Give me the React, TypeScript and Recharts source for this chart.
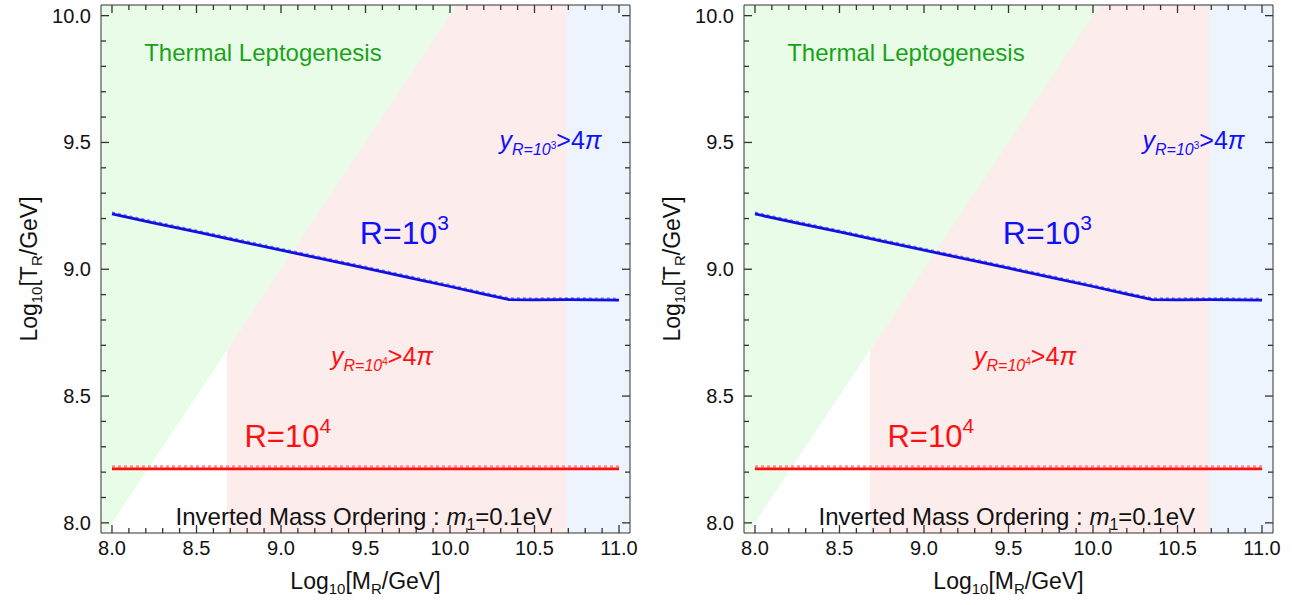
import React from "react";
import { ComposedChart, Area, Line, XAxis, YAxis, ReferenceDot } from "recharts";

// tick positions (major every 0.5, minor every 0.1)
const massTicks = [
  8.0, 8.1, 8.2, 8.3, 8.4, 8.5, 8.6, 8.7, 8.8, 8.9, 9.0, 9.1, 9.2, 9.3, 9.4, 9.5,
  9.6, 9.7, 9.8, 9.9, 10.0, 10.1, 10.2, 10.3, 10.4, 10.5, 10.6, 10.7, 10.8, 10.9, 11.0,
];
const tempTicks = [
  8.0, 8.1, 8.2, 8.3, 8.4, 8.5, 8.6, 8.7, 8.8, 8.9, 9.0, 9.1, 9.2, 9.3, 9.4, 9.5,
  9.6, 9.7, 9.8, 9.9, 10.0,
];

const massDomain: [number, number] = [7.935, 11.065];
const tempDomain: [number, number] = [7.96, 10.042];

// R = 10^3 curve (solid) and its companion (dashed)
const massR3 = [8.0, 8.25, 8.5, 8.75, 9.0, 9.25, 9.5, 9.75, 10.0, 10.2, 10.35, 10.5, 10.7, 10.85, 11.0];
const tempR3 = [9.218, 9.182, 9.147, 9.111, 9.075, 9.04, 9.004, 8.968, 8.932, 8.902, 8.880, 8.879, 8.880, 8.879, 8.878];
const tempR3Alt = [9.223, 9.187, 9.152, 9.116, 9.080, 9.045, 9.009, 8.973, 8.937, 8.907, 8.885, 8.884, 8.885, 8.884, 8.883];

// R = 10^4 curve
const massR4 = [8.0, 11.0];
const tempR4 = [8.213, 8.213];
const tempR4Alt = [8.222, 8.222];

// shaded regions
const leptoEdgeMass = [7.935, 10.042]; // T_R = M_R boundary
const yukawa4Mass = [8.68, 10.042, 10.69]; // y_{R=10^4} > 4 pi (below the T_R = M_R edge)
const yukawa3Mass = [10.69, 11.065]; // y_{R=10^3} > 4 pi

const r3Data = massR3.map((m, i) => ({ m, t: tempR3[i] }));
const r3AltData = massR3.map((m, i) => ({ m, t: tempR3Alt[i] }));
const r4Data = massR4.map((m, i) => ({ m, t: tempR4[i] }));
const r4AltData = massR4.map((m, i) => ({ m, t: tempR4Alt[i] }));
const leptoData = leptoEdgeMass.map((m) => ({ m, band: [m, tempDomain[1]] }));
const pinkData = yukawa4Mass.map((m) => ({ m, band: [tempDomain[0], Math.min(m, tempDomain[1])] }));
const blueData = yukawa3Mass.map((m) => ({ m, band: [tempDomain[0], tempDomain[1]] }));

const FONT = '"Liberation Sans", Arial, sans-serif';
const FRAME = "#333";

const isMajor = (v: number) => Math.abs(v * 2 - Math.round(v * 2)) < 1e-6;

// frame tick marks, placed on the plot edges through the chart scales
const bottomMarks = massTicks.map((m) => ({ m, t: tempDomain[0], major: isMajor(m) }));
const topMarks = massTicks.map((m) => ({ m, t: tempDomain[1], major: isMajor(m) }));
const leftMarks = tempTicks.map((t) => ({ m: massDomain[0], t, major: isMajor(t) }));
const rightMarks = tempTicks.map((t) => ({ m: massDomain[1], t, major: isMajor(t) }));

function BottomTick(props: any) {
  const { x, y, payload } = props;
  const v = payload.value;
  if (!isMajor(v)) return <g />;
  return (
    <text x={x} y={y + 22} textAnchor="middle" fontSize={20} fontFamily={FONT} fill="#111">
      {v.toFixed(1)}
    </text>
  );
}

function LeftTick(props: any) {
  const { x, y, payload } = props;
  const v = payload.value;
  if (!isMajor(v)) return <g />;
  return (
    <text x={x - 10} y={y + 7} textAnchor="end" fontSize={20} fontFamily={FONT} fill="#111">
      {v.toFixed(1)}
    </text>
  );
}

function XTitle(props: any) {
  const vb = props.viewBox;
  return (
    <text x={vb.x + vb.width / 2} y={vb.y + 56} textAnchor="middle" fontSize={23} fontFamily={FONT} fill="#111">
      <tspan>Log</tspan>
      <tspan dy={5} fontSize={15}>10</tspan>
      <tspan dy={-5}>[M</tspan>
      <tspan dy={5} fontSize={15}>R</tspan>
      <tspan dy={-5}>/GeV]</tspan>
    </text>
  );
}

function YTitle(props: any) {
  const vb = props.viewBox;
  const cx = vb.x + 37;
  const cy = vb.y + vb.height / 2;
  return (
    <text x={cx} y={cy} transform={`rotate(-90 ${cx} ${cy})`} textAnchor="middle" fontSize={23} fontFamily={FONT} fill="#111">
      <tspan>Log</tspan>
      <tspan dy={5} fontSize={15}>10</tspan>
      <tspan dy={-5}>[T</tspan>
      <tspan dy={5} fontSize={15}>R</tspan>
      <tspan dy={-5}>/GeV]</tspan>
    </text>
  );
}

const at = (render: (x: number, y: number) => React.ReactNode) => (p: any) => {
  const vb = p.viewBox || { x: 0, y: 0, width: 0, height: 0 };
  return <g>{render(vb.x + (vb.width || 0) / 2, vb.y + (vb.height || 0) / 2)}</g>;
};

function YukawaNote({ x, y, power, color }: { x: number; y: number; power: string; color: string }) {
  return (
    <text x={x} y={y} textAnchor="middle" fontFamily={FONT} fill={color} fontSize={25}>
      <tspan fontStyle="italic">y</tspan>
      <tspan dy={6} fontSize={16} fontStyle="italic">R=10</tspan>
      <tspan dy={-6} fontSize={10}>{power}</tspan>
      <tspan dy={0}>&gt;4</tspan>
      <tspan fontStyle="italic">π</tspan>
    </text>
  );
}

const frameMarks = (marks: { m: number; t: number; major: boolean }[], dx: number, dy: number, key: string) =>
  marks.map((k, i) => {
    const len = k.major ? 8 : 5;
    return (
      <ReferenceDot
        key={`${key}${i}`}
        x={k.m}
        y={k.t}
        r={3}
        ifOverflow="visible"
        shape={(p: any) => (
          <path d={`M${p.cx},${p.cy}L${p.cx + dx * len},${p.cy + dy * len}`} stroke={FRAME} strokeWidth={1.3} />
        )}
      />
    );
  });

function Panel() {
  return (
    <ComposedChart
      width={643}
      height={605}
      margin={{ top: 4, right: 12, bottom: 0, left: 0 }}
      style={{ fontFamily: FONT }}
    >
      <Area data={pinkData} dataKey="band" type="linear" stroke="none" fill="rgb(230,0,0)" fillOpacity={0.075} isAnimationActive={false} />
      <Area data={leptoData} dataKey="band" type="linear" stroke="none" fill="rgb(0,222,0)" fillOpacity={0.09} isAnimationActive={false} />
      <Area data={blueData} dataKey="band" type="linear" stroke="none" fill="rgb(30,117,230)" fillOpacity={0.08} isAnimationActive={false} />

      <Line data={r3AltData} dataKey="t" type="linear" stroke="#8080ff" strokeWidth={2.5} strokeDasharray="3 3" dot={false} isAnimationActive={false} />
      <Line data={r3Data} dataKey="t" type="linear" stroke="#1010e0" strokeWidth={2.8} dot={false} isAnimationActive={false} />
      <Line data={r4AltData} dataKey="t" type="linear" stroke="#ff8c8c" strokeWidth={2.5} strokeDasharray="3 3" dot={false} isAnimationActive={false} />
      <Line data={r4Data} dataKey="t" type="linear" stroke="#ff1010" strokeWidth={2.8} dot={false} isAnimationActive={false} />

      <XAxis
        dataKey="m"
        type="number"
        domain={massDomain}
        allowDataOverflow
        ticks={massTicks}
        interval={0}
        tickSize={0}
        tickMargin={0}
        tickLine={false}
        height={72}
        axisLine={{ stroke: FRAME }}
        tick={<BottomTick />}
        label={{ content: (p: any) => <XTitle {...p} /> }}
      />
      <XAxis
        xAxisId="top"
        orientation="top"
        dataKey="m"
        type="number"
        domain={massDomain}
        allowDataOverflow
        ticks={massTicks}
        tickLine={false}
        tick={false}
        height={1}
        axisLine={{ stroke: FRAME }}
      />
      <YAxis
        type="number"
        domain={tempDomain}
        allowDataOverflow
        ticks={tempTicks}
        interval={0}
        tickSize={0}
        tickMargin={0}
        tickLine={false}
        width={101}
        axisLine={{ stroke: FRAME }}
        tick={<LeftTick />}
        label={{ content: (p: any) => <YTitle {...p} /> }}
      />
      <YAxis
        yAxisId="right"
        orientation="right"
        type="number"
        domain={tempDomain}
        allowDataOverflow
        ticks={tempTicks}
        tickLine={false}
        tick={false}
        width={1}
        axisLine={{ stroke: FRAME }}
      />

      {frameMarks(bottomMarks, 0, -1, "b")}
      {frameMarks(topMarks, 0, 1, "t")}
      {frameMarks(leftMarks, 1, 0, "l")}
      {frameMarks(rightMarks, -1, 0, "r")}

      <ReferenceDot
        x={8.893}
        y={9.822}
        r={0}
        label={at((x, y) => (
          <text x={x} y={y} textAnchor="middle" fontSize={24} fontFamily={FONT} fill="#1aa31a">
            Thermal Leptogenesis
          </text>
        ))}
      />
      <ReferenceDot
        x={10.595}
        y={9.476}
        r={0}
        label={at((x, y) => <YukawaNote x={x} y={y} power="3" color="#1010ff" />)}
      />
      <ReferenceDot
        x={9.73}
        y={9.1}
        r={0}
        label={at((x, y) => (
          <text x={x} y={y} textAnchor="middle" fontSize={32} fontFamily={FONT} fill="#1010ff">
            <tspan>R=10</tspan>
            <tspan dy={-14} fontSize={21}>3</tspan>
          </text>
        ))}
      />
      <ReferenceDot
        x={9.598}
        y={8.624}
        r={0}
        label={at((x, y) => <YukawaNote x={x} y={y} power="4" color="#ff1010" />)}
      />
      <ReferenceDot
        x={9.04}
        y={8.3}
        r={0}
        label={at((x, y) => (
          <text x={x} y={y} textAnchor="middle" fontSize={31} fontFamily={FONT} fill="#ff1010">
            <tspan>R=10</tspan>
            <tspan dy={-14} fontSize={21}>4</tspan>
          </text>
        ))}
      />
      <ReferenceDot
        x={9.49}
        y={7.99}
        r={0}
        label={at((x, y) => (
          <text x={x} y={y} textAnchor="middle" fontSize={24} fontFamily={FONT} fill="#111">
            <tspan>Inverted Mass Ordering : </tspan>
            <tspan fontStyle="italic">m</tspan>
            <tspan dy={5} fontSize={16}>1</tspan>
            <tspan dy={-5}>=0.1eV</tspan>
          </text>
        ))}
      />
    </ComposedChart>
  );
}

export default function App() {
  return (
    <div style={{ position: "absolute", left: 0, top: 0, width: 1296, height: 605, background: "#fff", display: "flex" }}>
      <Panel />
      <Panel />
    </div>
  );
}
